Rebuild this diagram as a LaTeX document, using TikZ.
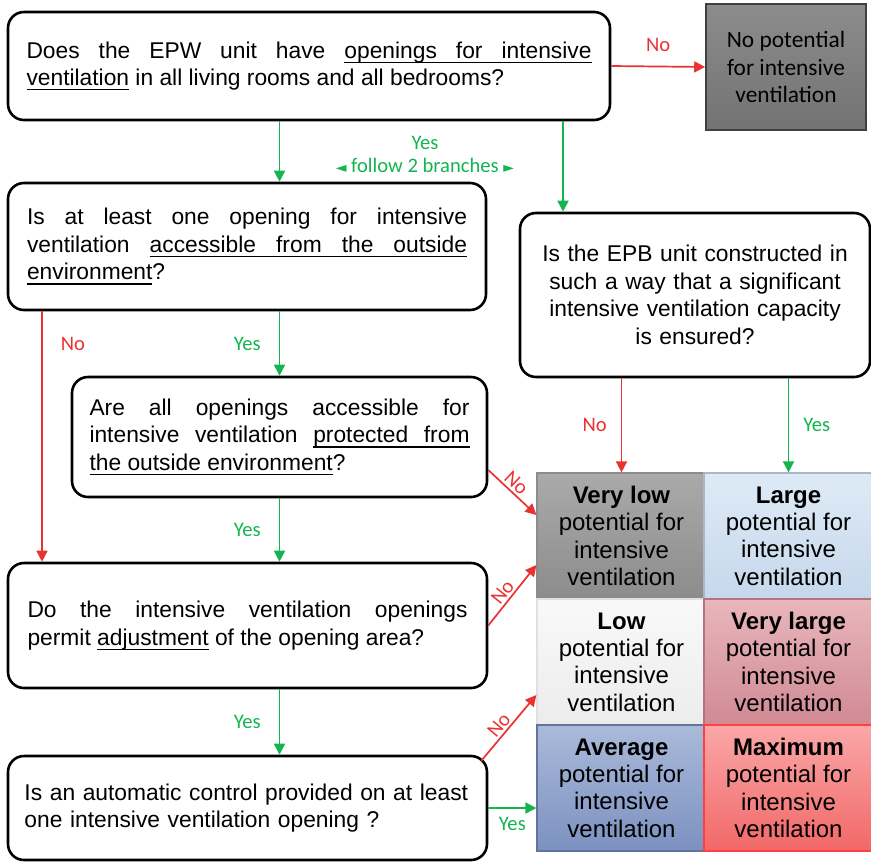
\documentclass[tikz,border=0pt]{standalone}
\usepackage{fontspec}
\setmainfont{Liberation Sans}
\newfontfamily\narrowfont{Carlito}
\newfontfamily\symfont{DejaVu Sans}
\usetikzlibrary{arrows.meta}

\definecolor{yesgreen}{RGB}{20,180,80}
\definecolor{nored}{RGB}{235,50,50}
\definecolor{vltop}{RGB}{170,170,170}\definecolor{vlbot}{RGB}{140,140,140}
\definecolor{lgtop}{RGB}{222,234,246}\definecolor{lgbot}{RGB}{198,216,236}
\definecolor{lwtop}{RGB}{249,249,249}\definecolor{lwbot}{RGB}{236,236,236}
\definecolor{vgtop}{RGB}{233,182,188}\definecolor{vgbot}{RGB}{208,138,148}
\definecolor{avtop}{RGB}{170,186,218}\definecolor{avbot}{RGB}{124,145,192}
\definecolor{mxtop}{RGB}{250,168,168}\definecolor{mxbot}{RGB}{242,104,104}

% underlined word and underlined (stretchable) space
\newcommand\ulw[1]{\setbox0\hbox{#1}\rlap{\rule[-2.3pt]{\wd0}{0.55pt}}\box0\relax}
\newcommand\ulsp{\leaders\hrule height -1.75pt depth 2.3pt\hskip\fontdimen2\font plus\fontdimen3\font minus\fontdimen4\font}

\tikzset{
  question/.style={draw=black, line width=1.3pt, rounded corners=8pt, inner sep=0pt,
    font=\fontsize{11.4}{13.75}\selectfont},
  yes/.style={draw=yesgreen, line width=0.85pt, -{Triangle[length=5.5pt,width=5.5pt]}},
  no/.style={draw=nored, line width=0.85pt, -{Triangle[length=5.5pt,width=5.5pt]}},
  lbl/.style={font=\narrowfont\fontsize{10.3}{12}\selectfont, inner sep=1pt},
  cell/.style={minimum width=84.5pt, minimum height=63pt, inner sep=0pt, align=center,
    line width=0.6pt, font=\fontsize{12}{13.7}\selectfont}
}

\begin{document}
\begin{tikzpicture}[x=0.5pt, y=-0.5pt]
        \useasboundingbox (0,0) rectangle (871,862);

        % questions
        \node [question, minimum width=301pt, minimum height=54pt, text width=282.5pt, align=justify]
          (Q1) at (309,66) {Does the EPW unit have \ulw{openings}\ulsp\ulw{for}\ulsp\ulw{intensive}\linebreak\ulw{ventilation} in all living rooms and all bedrooms?};
        \node [question, minimum width=239pt, minimum height=63.5pt, text width=220pt, align=justify]
          (Q2) at (247,246.5) {Is at least one opening for intensive\linebreak ventilation \ulw{accessible}\ulsp\ulw{from}\ulsp\ulw{the}\ulsp\ulw{outside}\linebreak\ulw{environment}?};
        \node [question, minimum width=207.5pt, minimum height=60pt, text width=190pt, align=justify]
          (Q3) at (279.5,437) {Are all openings accessible for\linebreak intensive ventilation \ulw{protected}\ulsp\ulw{from}\linebreak\ulw{the}\ulsp\ulw{outside}\ulsp\ulw{environment}?};
        \node [question, minimum width=239.5pt, minimum height=62.5pt, text width=220pt, align=justify]
          (Q4) at (247.5,625.5) {Do the intensive ventilation openings\linebreak permit \ulw{adjustment} of the opening area?};
        \node [question, minimum width=239.5pt, minimum height=52pt, text width=223pt, align=left]
          (Q6) at (247.5,808) {Is an automatic control provided on at least\\one intensive ventilation opening ?};
        \node [question, minimum width=175pt, minimum height=82pt, text width=165pt, align=center]
          (Q5) at (695,295) {Is the EPB unit constructed in\\such a way that a significant\\intensive ventilation capacity\\is ensured?};

        \node [draw=black!75, line width=0.8pt, top color=black!45, bottom color=black!55,
          minimum width=80pt, minimum height=63pt, inner sep=0pt, align=center,
          font=\narrowfont\fontsize{11.7}{13.75}\selectfont]
          (NoPot) at (786,67) {No potential\\for intensive\\ventilation};

        % result grid
        \node [cell, draw=black!45, top color=vltop, bottom color=vlbot] (VeryLow) at (621.5,536) {\textbf{Very low}\\potential for\\intensive\\ventilation};
        \node [cell, draw=lgbot!85!black, top color=lgtop, bottom color=lgbot] (Large) at (788.5,536) {\textbf{Large}\\potential for\\intensive\\ventilation};
        \node [cell, draw=black!12, top color=lwtop, bottom color=lwbot] (Low) at (621.5,662) {\textbf{Low}\\potential for\\intensive\\ventilation};
        \node [cell, draw=vgbot!85!black, top color=vgtop, bottom color=vgbot] (VeryLarge) at (788.5,662) {\textbf{Very large}\\potential for\\intensive\\ventilation};
        \node [cell, draw=avbot!80!black, top color=avtop, bottom color=avbot] (Average) at (621.5,788) {\textbf{Average}\\potential for\\intensive\\ventilation};
        \node [cell, draw=red!75, top color=mxtop, bottom color=mxbot] (Maximum) at (788.5,788) {\textbf{Maximum}\\potential for\\intensive\\ventilation};

        \coordinate (br) at (563,0);
        \coordinate (lft) at (42,0);

        % connectors
        \draw [no] (Q1.east) -- node[lbl, above=6pt, text=nored] {No} (NoPot.west);
        \draw [yes] (Q1.south -| Q3.north) -- (Q2.north -| Q3.north);
        \draw [yes] (Q1.south -| br) -- (Q5.north -| br);
        \node [lbl, text=yesgreen] (yeslbl) at (425,143) {Yes};
        \node [lbl, text=yesgreen] (branches) at (425,165) {{\symfont\fontsize{7}{8}\selectfont ◄} follow 2 branches {\symfont\fontsize{7}{8}\selectfont ►}};

        \draw [yes] (Q2.south -| Q3.north) -- node[lbl, left=8pt, text=yesgreen] {Yes} (Q3.north);
        \draw [no] (Q2.south -| lft) -- node[lbl, pos=0.13, right=8pt, text=nored] {No} (Q4.north -| lft);
        \draw [yes] (Q3.south) -- node[lbl, left=8pt, text=yesgreen] {Yes} (Q4.north -| Q3.south);
        \draw [yes] (Q4.south -| Q3.south) -- node[lbl, left=8pt, text=yesgreen] {Yes} (Q6.north -| Q3.south);

        \draw [no] ([yshift=-16.5pt]Q3.east) -- node[lbl, sloped, above, pos=0.45, text=nored] {No} ([yshift=10.5pt]VeryLow.west);
        \draw [no] (Q4.east) -- node[lbl, sloped, above, pos=0.45, text=nored] {No} ([yshift=-14.5pt]VeryLow.west);
        \draw [no] ([xshift=-3.5pt,yshift=-3pt]Q6.north east) -- node[lbl, sloped, above, pos=0.45, text=nored] {No} ([yshift=-16.5pt]Low.west);
        \draw [yes] (Q6.east) -- node[lbl, below=3pt, text=yesgreen] {Yes} (Q6.east -| Average.west);

        \draw [no] (Q5.south -| VeryLow.north) -- node[lbl, left=6pt, text=nored] {No} (VeryLow.north);
        \draw [yes] (Q5.south -| Large.north) -- node[lbl, right=6pt, text=yesgreen] {Yes} (Large.north);

\end{tikzpicture}
\end{document}
